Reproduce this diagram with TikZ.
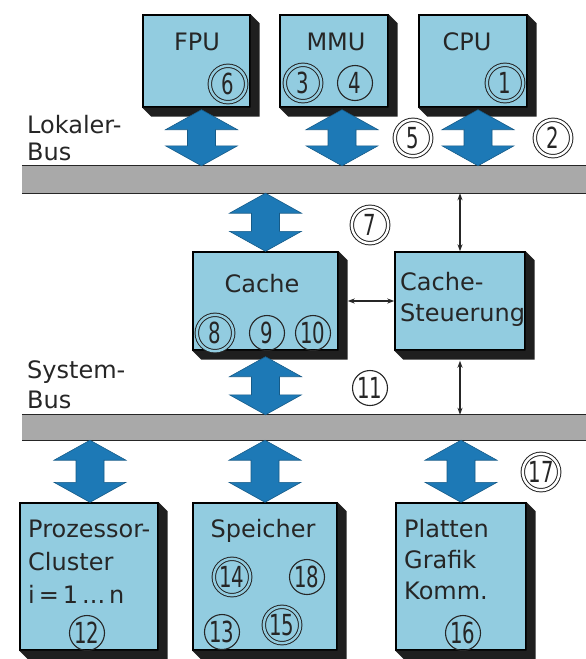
\documentclass[tikz,border=0pt]{standalone}
\usepackage{fontspec}
\setmainfont{DejaVu Sans}
\newfontfamily\numfont{DejaVu Sans}[FakeStretch=0.68]
\usetikzlibrary{calc,arrows.meta}
\definecolor{boxblue}{HTML}{92CCE0}
\definecolor{arrowblue}{HTML}{1D79B6}
\definecolor{busgray}{HTML}{A9A9A9}
\tikzset{
  unit/.style={draw=black, line width=1.4pt, fill=boxblue, inner sep=0pt},
  busbar/.style={fill=busgray, inner sep=0pt, minimum width=564pt},
  busline/.style={line width=1.3pt, black!85},
  lbl/.style={anchor=base, inner sep=0pt, font=\fontsize{24}{24}\selectfont, text=black!85},
  lbll/.style={lbl, anchor=base west},
  num/.style={circle, draw=black!85, line width=1.1pt, minimum size=35pt, inner sep=0pt,
    font=\numfont\fontsize{29}{29}\selectfont, text=black!85},
  dnum/.style={num, line width=1pt, double=boxblue, double distance=2.4pt, minimum size=36.4pt},
  dnumw/.style={dnum, double=white},
  thinarrow/.style={line width=1.1pt, black!85,
    {Stealth[length=7pt,width=5pt]}-{Stealth[length=7pt,width=5pt]}},
  bigarr/.style={fill=arrowblue, draw=arrowblue!75!black, line width=0.6pt}
}
\newcommand\boxshadow[1]{%
  \fill[black!88] (#1.north east) -- ++(9,9) -- ($(#1.south east)+(9,9)$)
    -- ($(#1.south west)+(9,9)$) -- (#1.south west) -- (#1.south east) -- cycle;}
\newcommand\bigarrow[2]{%
  \path[bigarr] let \p1=(#1), \p2=(#2) in
    (\x1,\y1) -- ({\x1+36pt},{\y1-20pt}) -- ({\x1+14pt},{\y1-20pt})
    -- ({\x1+14pt},{\y2+20pt}) -- ({\x1+36pt},{\y2+20pt}) -- (\x1,\y2)
    -- ({\x1-36pt},{\y2+20pt}) -- ({\x1-14pt},{\y2+20pt})
    -- ({\x1-14pt},{\y1-20pt}) -- ({\x1-36pt},{\y1-20pt}) -- cycle;}
\begin{document}
\begin{tikzpicture}[x=1pt,y=-1pt]
\useasboundingbox (0,0) rectangle (586,659);

% buses
\node[busbar, minimum height=27pt] (lbus) at (304,179.5) {};
\draw[busline] (lbus.north west) -- (lbus.north east);
\draw[busline] (lbus.south west) -- (lbus.south east);
\node[busbar, minimum height=25pt] (sbus) at (304,427.5) {};
\draw[busline] (sbus.north west) -- (sbus.north east);
\draw[busline] (sbus.south west) -- (sbus.south east);

\node[lbll] (tlok) at (27,133) {Lokaler-};
\node[lbll] (tlbus) at (27,160) {Bus};
\node[lbll] (tsys) at (27,378) {System-};
\node[lbll] (tsbus) at (27,408) {Bus};

% top units
\node[unit, minimum width=107pt, minimum height=92pt] (fpu) at (196.5,61) {};
\node[unit, minimum width=108pt, minimum height=92pt] (mmu) at (334,61) {};
\node[unit, minimum width=108pt, minimum height=92pt] (cpu) at (473,61) {};
\boxshadow{fpu}\boxshadow{mmu}\boxshadow{cpu}
\node[lbl] (tfpu) at (197,50) {FPU};
\node[lbl] (tmmu) at (336,50) {MMU};
\node[lbl] (tcpu) at (467,50) {CPU};
\node[dnum] (n6) at (228,84) {6};
\node[dnum] (n3) at (303,83) {3};
\node[num] (n4) at (355,83) {4};
\node[dnum] (n1) at (505,83) {1};

% cache level
\node[unit, minimum width=145pt, minimum height=98pt] (cache) at (265.5,301) {};
\node[unit, minimum width=130pt, minimum height=98pt] (stg) at (460,301) {};
\boxshadow{cache}\boxshadow{stg}
\node[lbl] (tcache) at (262,292) {Cache};
\node[lbll] (tstg1) at (400,290) {Cache-};
\node[lbll] (tstg2) at (400,321) {Steuerung};
\node[dnum] (n8) at (215,333) {8};
\node[num] (n9) at (267,333) {9};
\node[num] (n10) at (313,333) {10};

% bottom units
\node[unit, minimum width=138pt, minimum height=147pt] (proz) at (89,576.5) {};
\node[unit, minimum width=144pt, minimum height=147pt] (spei) at (265,576.5) {};
\node[unit, minimum width=130pt, minimum height=147pt] (plat) at (461,576.5) {};
\boxshadow{proz}\boxshadow{spei}\boxshadow{plat}
\node[lbll] (tp1) at (28,537) {Prozessor-};
\node[lbll] (tp2) at (28,570) {Cluster};
\node[lbll] (tp3) at (28,603) {i\,=\,1\,...\,n};
\node[num] (n12) at (87,633) {12};
\node[lbl] (tspei) at (263,537) {Speicher};
\node[dnum] (n14) at (232,577) {14};
\node[num] (n18) at (307,577) {18};
\node[num] (n13) at (222,632) {13};
\node[dnum] (n15) at (282,625) {15};
\node[lbll] (tpl1) at (404,537) {Platten};
\node[lbll] (tpl2) at (404,568) {Grafik};
\node[lbll] (tpl3) at (404,599) {Komm.};
\node[num] (n16) at (463,633) {16};

% free circled numbers
\node[dnumw] (n5) at (413,138) {5};
\node[dnumw] (n2) at (553,138) {2};
\node[dnumw] (n7) at (370,225) {7};
\node[num] (n11) at (370,388) {11};
\node[dnumw] (n17) at (541,472) {17};

% big arrows
\coordinate (fa) at ($(fpu.south)+(5,2)$);  \coordinate (fb) at (fa |- lbus.north);
\coordinate (ma) at ($(mmu.south)+(8,2)$);  \coordinate (mb) at (ma |- lbus.north);
\coordinate (ca) at ($(cpu.south)+(5,2)$);  \coordinate (cb) at (ca |- lbus.north);
\bigarrow{fa}{fb}\bigarrow{ma}{mb}\bigarrow{ca}{cb}
\coordinate (ka) at (cache.north |- lbus.south); \coordinate (kb) at (cache.north);
\coordinate (kc) at ($(cache.south)+(0,6)$);     \coordinate (kd) at (kc |- sbus.north);
\bigarrow{ka}{kb}\bigarrow{kc}{kd}
\coordinate (pa) at ($(proz.north)+(1,0)$); \coordinate (pb) at (pa |- sbus.south);
\coordinate (sa) at (spei.north);           \coordinate (sb) at (sa |- sbus.south);
\coordinate (qa) at (plat.north);           \coordinate (qb) at (qa |- sbus.south);
\bigarrow{pb}{pa}\bigarrow{sb}{sa}\bigarrow{qb}{qa}

% thin arrows
\coordinate (st1) at (stg.north |- lbus.south);
\draw[thinarrow] (st1) -- (stg.north);
\coordinate (st2) at ($(stg.south)+(0,10)$);
\coordinate (st3) at (st2 |- sbus.north);
\draw[thinarrow] (st2) -- (st3);
\coordinate (ce) at ($(cache.east)+(9,0)$);
\draw[thinarrow] (ce) -- (stg.west);
\end{tikzpicture}
\end{document}
